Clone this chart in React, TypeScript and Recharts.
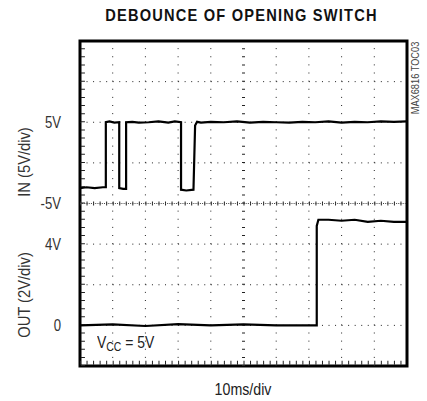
import React from "react";
import {
  ComposedChart, Line, XAxis, YAxis, ReferenceLine, ReferenceArea,
} from "recharts";

// scope trace: IN (5V/div), OUT (2V/div), 10ms/div
const inTimeMs = [
  0, 2, 4.5, 7, 7.9, 7.9, 9, 10.5, 12.0, 12.0, 13.2, 14.1, 14.1, 16, 18, 21, 24, 27, 29, 30.9,
  30.9, 32.5, 34.7, 35.2, 35.8, 37, 40, 44, 48, 52, 56, 60, 64, 68, 72, 76, 80, 84, 88, 92, 96, 100,
];
const inVolts = [
  -3.1, -3.0, -3.1, -3.0, -3.0, 5.0, 5.1, 4.95, 5.0, -3.1, -3.2, -3.2, 5.0, 5.05, 4.95, 5.0, 5.1, 4.95, 5.1, 5.0,
  -3.3, -3.4, -3.3, 4.6, 5.05, 4.95, 5.05, 5.0, 5.1, 4.95, 5.05, 5.0, 4.95, 5.05, 5.0, 5.1, 4.95, 5.05, 5.0, 5.1, 5.05, 5.1,
];
const outTimeMs = [0, 10, 20, 30, 40, 50, 60, 72.4, 72.4, 72.9, 76, 80, 84, 88, 92, 96, 100];
const outVolts = [0, 0.05, -0.03, 0.06, 0, 0.05, 0, 0, 4.9, 5.2, 5.2, 5.15, 5.2, 5.1, 5.15, 5.1, 5.1];

const inTicks = [-5, 5];
const outTicks = [0, 4];
const divisionTimes = [10, 20, 30, 40, 60, 70, 80, 90];
const centerTime = 50;
const divisionVolts = [10, 5, 0, -10, -15, -20];
const centerVolt = -5;

const inData = inTimeMs.map((t, i) => ({ t, v: inVolts[i] }));
const outData = outTimeMs.map((t, i) => ({ t, v: outVolts[i] }));

const FONT = "'Liberation Sans', Arial, sans-serif";
const INK = "#111";

const narrow = (sx: number, origin = "center"): React.CSSProperties => ({
  transform: `scaleX(${sx})`,
  transformOrigin: origin,
});

function makeTick(fmt: (v: number) => string) {
  return (p: any) => (
    <text
      transform={`translate(${p.x},${p.y}) scale(0.82,1)`}
      textAnchor="end"
      dominantBaseline="central"
      fill="#333"
      fontSize={16}
      fontFamily={FONT}
    >
      {fmt(p.payload.value)}
    </text>
  );
}

export default function App() {
  return (
    <div style={{ position: "absolute", left: 0, top: 0, width: 427, height: 401, background: "#fff", fontFamily: FONT }}>
      <div style={{ position: "absolute", left: 0, width: 483, top: 6, textAlign: "center", fontWeight: "bold", fontSize: 17, letterSpacing: 1.4, color: INK, ...narrow(0.86) }}>
        DEBOUNCE OF OPENING SWITCH
      </div>
      <div style={{ position: "absolute", left: 25, top: 162, transform: "translate(-50%, -50%) rotate(-90deg) scaleX(0.92)", fontSize: 16, color: "#333", whiteSpace: "nowrap" }}>
        IN (5V/div)
      </div>
      <div style={{ position: "absolute", left: 25, top: 295, transform: "translate(-50%, -50%) rotate(-90deg) scaleX(0.92)", fontSize: 16, color: "#333", whiteSpace: "nowrap" }}>
        OUT (2V/div)
      </div>
      <div style={{ position: "absolute", left: 415, top: 78, transform: "translate(-50%, -50%) rotate(-90deg) scaleX(0.88)", fontSize: 10.5, color: "#444", whiteSpace: "nowrap" }}>
        MAX6816 TOC03
      </div>
      <div style={{ position: "absolute", left: 97, top: 334, fontSize: 16, color: "#222", whiteSpace: "nowrap", ...narrow(0.87, "left") }}>
        V<sub style={{ fontSize: 12, verticalAlign: -3 }}>CC</sub> = 5V
      </div>
      <div style={{ position: "absolute", left: 0, width: 486, top: 380, textAlign: "center", fontSize: 16.5, color: "#222", ...narrow(0.86) }}>
        10ms/div
      </div>
      <div style={{ position: "absolute", left: 0, top: 0 }}>
        <ComposedChart width={427} height={401} margin={{ top: 41, right: 20, bottom: 34, left: 0 }}>
          <XAxis dataKey="t" type="number" domain={[0, 100]} ticks={[0, 100]} tick={false} axisLine={false} tickLine={false} height={1} />
          <YAxis
            yAxisId="b_in" type="number" domain={[-25, 15]} ticks={inTicks} width={79}
            axisLine={false} tickLine={false} tickMargin={12}
            tick={makeTick((v) => `${v}V`)}
          />
          <YAxis
            yAxisId="a_out" type="number" domain={[-2, 14]} ticks={outTicks} width={1}
            axisLine={false} tickLine={false} tickMargin={13}
            tick={makeTick((v) => (v === 0 ? "0" : `${v}V`))}
          />
          {divisionVolts.map((v) => (
            <ReferenceLine key={`h${v}`} yAxisId="b_in" y={v} stroke="#222" strokeWidth={1} strokeDasharray="1 5.54" />
          ))}
          {divisionTimes.map((t) => (
            <ReferenceLine key={`v${t}`} yAxisId="b_in" x={t} stroke="#222" strokeWidth={1} strokeDasharray="1 7.125" />
          ))}
          <ReferenceLine yAxisId="b_in" y={centerVolt} stroke="#222" strokeWidth={4} strokeDasharray="1 5.54" />
          <ReferenceLine yAxisId="b_in" y={centerVolt} stroke="#444" strokeWidth={1} strokeDasharray="1 1.18" />
          <ReferenceLine yAxisId="b_in" x={centerTime} stroke="#222" strokeWidth={3} strokeDasharray="1 7.125" />
          <ReferenceLine yAxisId="b_in" y={-24.6} stroke="#222" strokeWidth={4} strokeDasharray="1 5.54" />
          <ReferenceLine yAxisId="b_in" x={0.9} stroke="#222" strokeWidth={4} strokeDasharray="1 7.125" />
          <Line yAxisId="b_in" data={inData} dataKey="v" type="linear" stroke="#000" strokeWidth={2.2} dot={false} isAnimationActive={false} />
          <Line yAxisId="a_out" data={outData} dataKey="v" type="linear" stroke="#000" strokeWidth={2.2} dot={false} isAnimationActive={false} />
          <ReferenceArea yAxisId="b_in" x1={0} x2={100} y1={-25} y2={15} fill="none" stroke="#000" strokeWidth={3} />
        </ComposedChart>
      </div>
    </div>
  );
}
